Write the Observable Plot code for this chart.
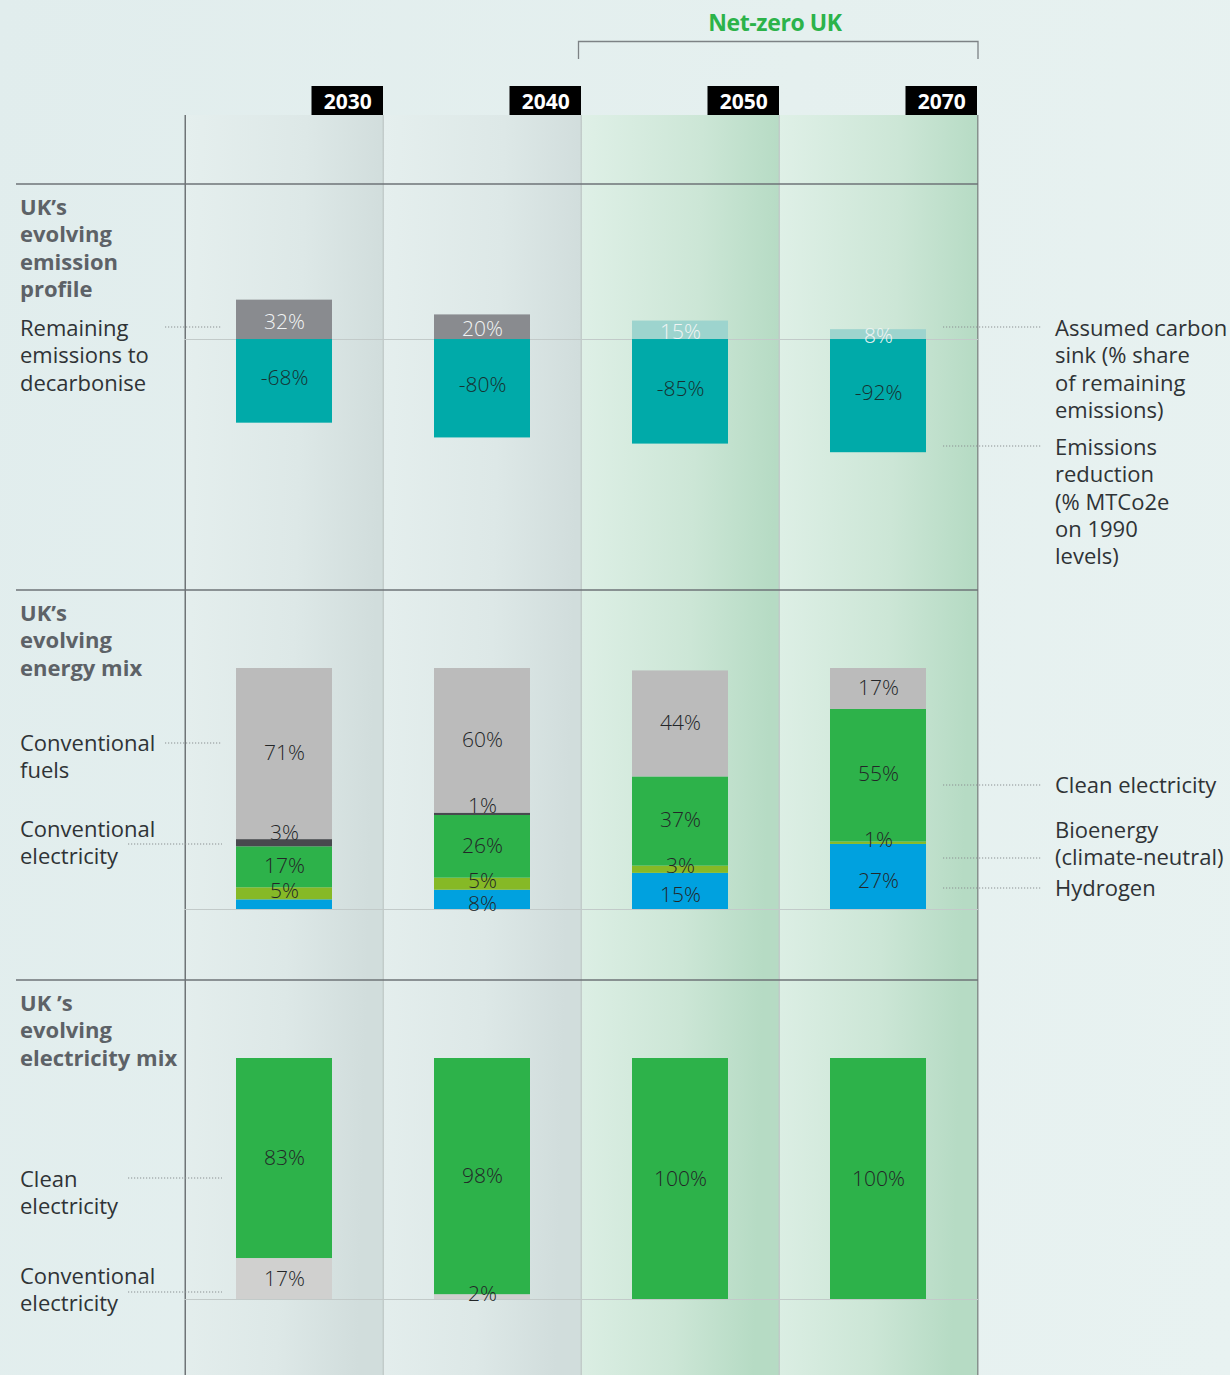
<!DOCTYPE html>
<html><head><meta charset="utf-8">
<script src="https://cdn.jsdelivr.net/npm/d3@7"></script>
<script src="https://cdn.jsdelivr.net/npm/@observablehq/plot@0.6"></script>
<style>
html,body{margin:0;padding:0;overflow:hidden;background:#e4efef;}
#page{position:relative;width:1230px;height:1375px;overflow:hidden;
 background:linear-gradient(100deg,#e1eded 0%,#e5f0ef 55%,#e8f2f1 100%);
 font-family:"Open Sans",sans-serif;}
#page svg{position:absolute;left:0;}
</style></head><body><div id="page"></div>
<script>
// ---------- data ----------
const years = ["2030", "2040", "2050", "2070"];
const netZeroYears = ["2050", "2070"];
// Emission profile (% on 1990 levels)
const remaining = [32, 20, null, null];       // remaining emissions to decarbonise
const carbonSink = [null, null, 15, 8];       // assumed carbon sink
const reduction = [-68, -80, -85, -92];       // emissions reduction
// Energy mix (%)
const hydrogen = [4, 8, 15, 27];
const bioenergy = [5, 5, 3, 1];
const cleanElec = [17, 26, 37, 55];
const convElec = [3, 1, 0, 0];
const convFuels = [71, 60, 44, 17];
const hydrogenLabelled = [false, true, true, true];
// Electricity mix (%)
const elecClean = [83, 98, 100, 100];
const elecConv = [17, 2, 0, 0];

const emKinds = ["Remaining emissions", "Assumed carbon sink", "Emissions reduction"];
const emColors = ["#898b8f", "#9dd4ce", "#00aaa9"];
const enKinds = ["Hydrogen", "Bioenergy (climate-neutral)", "Clean electricity", "Conventional electricity", "Conventional fuels"];
const enColors = ["#00a1df", "#86b926", "#2db24a", "#48494e", "#bbbbbb"];
const elKinds = ["Conventional electricity", "Clean electricity"];
const elColors = ["#d0d0cf", "#2db24a"];

// ---------- tidy tables ----------
const emRows = years.flatMap((yr, i) => [
  {year: yr, kind: emKinds[0], value: remaining[i]},
  {year: yr, kind: emKinds[1], value: carbonSink[i]},
  {year: yr, kind: emKinds[2], value: reduction[i]}
]).filter(d => d.value != null);
const enRows = years.flatMap((yr, i) => [
  {year: yr, kind: enKinds[0], value: hydrogen[i], show: hydrogenLabelled[i]},
  {year: yr, kind: enKinds[1], value: bioenergy[i], show: true},
  {year: yr, kind: enKinds[2], value: cleanElec[i], show: true},
  {year: yr, kind: enKinds[3], value: convElec[i], show: true},
  {year: yr, kind: enKinds[4], value: convFuels[i], show: true}
]);
const elRows = years.flatMap((yr, i) => [
  {year: yr, kind: elKinds[0], value: elecConv[i]},
  {year: yr, kind: elKinds[1], value: elecClean[i]}
]);

const page = document.getElementById("page");
const W = 1230, H = 1375;
const FONT = "'Open Sans', sans-serif";
const baseStyle = {background: "transparent", fontFamily: FONT, overflow: "visible"};
const common = {width: W, marginLeft: 184, marginRight: 252, style: baseStyle};
const xBars = {domain: years, paddingInner: 0.516, paddingOuter: 0.258, axis: null};
const xCols = {domain: years, paddingInner: 0, paddingOuter: 0, axis: null};
const half = (W - 184 - 252) / years.length / 2;

function place(svg, top) { svg.style.top = top + "px"; page.appendChild(svg); return svg; }

// ---------- background columns ----------
const bg = Plot.plot({
  ...common, height: H, marginTop: 115, marginBottom: 0,
  x: xCols, y: {domain: [0, 1], axis: null},
  marks: [
    Plot.barY(years.filter(y => !netZeroYears.includes(y)), {x: d => d, y: () => 1, fill: "url(#colGrey)"}),
    Plot.barY(netZeroYears, {x: d => d, y: () => 1, fill: "url(#colGreen)"}),
    Plot.ruleX(years.slice(1), {x: d => d, dx: -half, stroke: "#bfc8c7", strokeWidth: 1.3}),
    Plot.ruleX(years.slice(0, 1), {x: d => d, dx: -half, stroke: "#6f7477", strokeWidth: 1.5}),
    Plot.ruleX(years.slice(-1), {x: d => d, dx: half, stroke: "#87918d", strokeWidth: 1.5})
  ]
});
d3.select(bg).insert("defs", ":first-child").html(`
  <linearGradient id="colGrey" x1="0" y1="0" x2="1" y2="0.15">
    <stop offset="0" stop-color="#e5efee"/><stop offset="0.6" stop-color="#dde8e7"/><stop offset="1" stop-color="#d1dddc"/>
  </linearGradient>
  <linearGradient id="colGreen" x1="0" y1="0" x2="1" y2="0.15">
    <stop offset="0" stop-color="#dff0e7"/><stop offset="0.6" stop-color="#cce6d6"/><stop offset="1" stop-color="#b6dbc4"/>
  </linearGradient>`);
place(bg, 0);

// ---------- overlay: separators, labels, leaders ----------
const ov = d3.create("svg").attr("width", W).attr("height", H)
  .attr("font-family", FONT).style("overflow", "visible");
[184, 590, 980].forEach(y => ov.append("line").attr("x1", 16).attr("x2", 978).attr("y1", y).attr("y2", y)
  .attr("stroke", "#6e7377").attr("stroke-width", 1.5));
ov.append("path").attr("d", "M578.5,59V41.5H978V59").attr("fill", "none").attr("stroke", "#7d8285").attr("stroke-width", 1.3);
ov.append("text").attr("x", 775).attr("y", 22).attr("text-anchor", "middle").attr("dominant-baseline", "central")
  .attr("font-size", 23).attr("font-weight", 700).attr("fill", "#2cb34a").attr("letter-spacing", -0.4).text("Net-zero UK");

function block(x, y0, lines, bold) {
  const t = ov.append("text").attr("font-size", 22).attr("font-weight", bold ? 700 : 400)
    .attr("fill", bold ? "#5d6267" : "#2f3336").attr("dominant-baseline", "central");
  lines.forEach((ln, i) => t.append("tspan").attr("x", x).attr("y", y0 + i * 27.3).attr("dominant-baseline", "central").text(ln));
}
function leader(x1, x2, y) {
  ov.append("line").attr("x1", x1).attr("x2", x2).attr("y1", y).attr("y2", y)
    .attr("stroke", "#8a8f91").attr("stroke-width", 1.2).attr("stroke-dasharray", "1.2 1.8");
}
block(20, 206, ["UK’s", "evolving", "emission", "profile"], true);
block(20, 327, ["Remaining", "emissions to", "decarbonise"]);
leader(165, 222, 327);
block(1055, 327, ["Assumed carbon", "sink (% share", "of remaining", "emissions)"]);
leader(943, 1041, 327);
block(1055, 446, ["Emissions", "reduction", "(% MTCo2e", "on 1990", "levels)"]);
leader(943, 1041, 446);

block(20, 612, ["UK’s", "evolving", "energy mix"], true);
block(20, 742, ["Conventional", "fuels"]);
leader(165, 222, 743);
block(20, 828, ["Conventional", "electricity"]);
leader(128, 222, 844);
block(1055, 784, ["Clean electricity"]);
leader(943, 1041, 785);
block(1055, 829, ["Bioenergy", "(climate-neutral)"]);
leader(943, 1041, 858);
block(1055, 887, ["Hydrogen"]);
leader(943, 1041, 888);

block(20, 1002, ["UK ’s", "evolving", "electricity mix"], true);
block(20, 1178, ["Clean", "electricity"]);
leader(128, 222, 1178);
block(20, 1275, ["Conventional", "electricity"]);
leader(128, 222, 1292);
place(ov.node(), 0);

// ---------- header: year boxes ----------
const header = Plot.plot({
  ...common, height: 115, marginTop: 86, marginBottom: 0,
  x: xCols, y: {domain: [0, 1], axis: null},
  marks: [
    Plot.barY(years, {x: d => d, y: () => 1, fill: "#000", insetLeft: 2 * half - 72}),
    Plot.text(years, {x: d => d, frameAnchor: "middle", text: d => d, dx: half - 36, dy: 1,
      fill: "#fff", fontSize: 21, fontWeight: 700, letterSpacing: -0.5})
  ]
});
place(header, 0);

const labelStyle = {fontSize: 21, fontWeight: 300};

// ---------- panel 1: emission profile ----------
const em = Plot.plot({
  ...common, height: 406, marginTop: 0, marginBottom: 0,
  x: xBars, y: {domain: [-204, 126], axis: null},
  color: {domain: emKinds, range: emColors},
  marks: [
    Plot.ruleY([0], {stroke: "#c2cac9", strokeWidth: 1.2}),
    Plot.barY(emRows, {x: "year", y: "value", fill: "kind"}),
    Plot.text(emRows.filter(d => d.value > 0), Plot.stackY({x: "year", y: "value", z: "kind",
      text: d => d.value + "%", fill: "#f2f4f4", ...labelStyle, dy: 2})),
    Plot.text(emRows.filter(d => d.value < 0), Plot.stackY({x: "year", y: "value", z: "kind",
      text: d => d.value + "%", fill: "#173030", ...labelStyle, dy: -3}))
  ]
});
place(em, 184);

// ---------- panel 2: energy mix ----------
const en = Plot.plot({
  ...common, height: 390, marginTop: 78, marginBottom: 71,
  x: xBars, y: {domain: [0, 100], axis: null},
  color: {domain: enKinds, range: enColors},
  marks: [
    Plot.ruleY([0], {stroke: "#c2cac9", strokeWidth: 1.2}),
    Plot.barY(enRows, {x: "year", y: "value", fill: "kind"}),
    Plot.text(enRows, Plot.filter(d => d.value > 0 && d.show && (d.kind === "Clean electricity" || d.kind === "Conventional fuels"),
      Plot.stackY({x: "year", y: "value", z: "kind", text: d => d.value + "%", fill: "#232628", ...labelStyle, dy: -1}))),
    Plot.text(enRows, Plot.filter(d => d.value > 0 && d.kind === "Bioenergy (climate-neutral)",
      Plot.stackY({x: "year", y: "value", z: "kind", text: d => d.value + "%", fill: "#232628", ...labelStyle, dy: -3}))),
    Plot.text(enRows, Plot.filter(d => d.value > 0 && d.show && d.kind === "Hydrogen",
      Plot.stackY({x: "year", y: "value", z: "kind", text: d => d.value + "%", fill: "#232628", ...labelStyle, dy: 4}))),
    Plot.text(enRows, Plot.filter(d => d.value > 0 && d.kind === "Conventional electricity",
      Plot.stackY2({x: "year", y: "value", z: "kind", text: d => d.value + "%", fill: "#232628",
        lineAnchor: "bottom", dy: 0, ...labelStyle})))
  ]
});
place(en, 590);

// ---------- panel 3: electricity mix ----------
const el = Plot.plot({
  ...common, height: 395, marginTop: 78, marginBottom: 76,
  x: xBars, y: {domain: [0, 100], axis: null},
  color: {domain: elKinds, range: elColors},
  marks: [
    Plot.ruleY([0], {stroke: "#c2cac9", strokeWidth: 1.2}),
    Plot.barY(elRows, {x: "year", y: "value", fill: "kind"}),
    Plot.text(elRows, Plot.filter(d => d.value > 2,
      Plot.stackY({x: "year", y: "value", z: "kind", text: d => d.value + "%", fill: "#232628", ...labelStyle}))),
    Plot.text(elRows, Plot.filter(d => d.value > 0 && d.value <= 2,
      Plot.stackY2({x: "year", y: "value", z: "kind", text: d => d.value + "%", fill: "#232628",
        lineAnchor: "bottom", dy: 6, ...labelStyle})))
  ]
});
place(el, 980);
</script></body></html>
